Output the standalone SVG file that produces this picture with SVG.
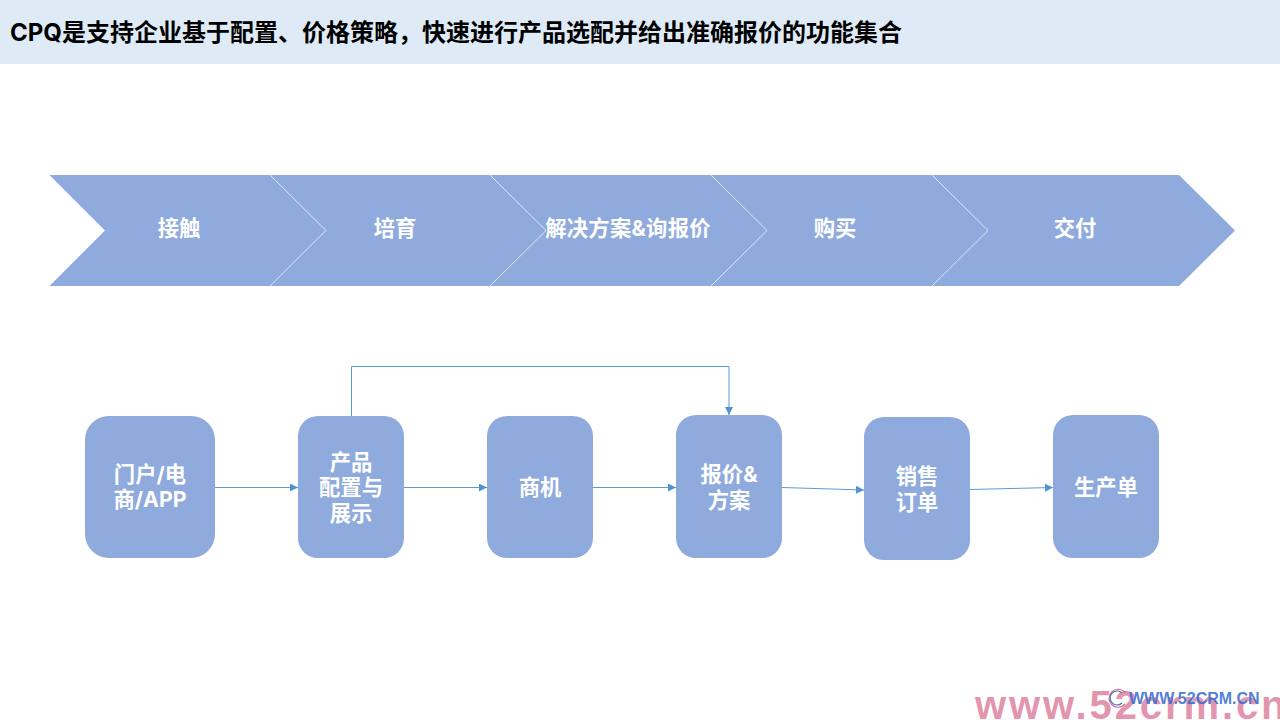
<svg xmlns="http://www.w3.org/2000/svg" width="1280" height="720" viewBox="0 0 1280 720">
<style>
text{font-family:"Inter","Noto Sans CJK SC","Noto Sans",sans-serif;font-weight:700}
.l{fill:#fff;font-size:21.33px;text-anchor:middle}
.n{fill:#8faadc}
.c{fill:none;stroke:#5b9bd5;stroke-width:1;marker-end:url(#a)}
.s{fill:#8faadc;stroke:none}
.e{fill:none;stroke:#dfe6f3;stroke-width:1}
.w{font-family:"Liberation Sans",sans-serif}
</style>
<defs><marker id="a" markerUnits="userSpaceOnUse" markerWidth="9" markerHeight="8" refX="8" refY="4" orient="auto"><path d="M0 0L8 4L0 8Z" fill="#4f94d4"/></marker></defs>
<rect width="1280" height="64" fill="#deeaf6"/>
<text x="10" y="41" font-size="24" fill="#000">CPQ是支持企业基于配置、价格策略，快速进行产品选配并给出准确报价的功能集合</text>
<g id="chevrons">
<path class="s" d="M49.500 175H1179L1235 230.500L1179 286H49.500L105 230.500Z"/>
<path class="e" d="M270 175L326 230.500L270 286M490 175L546 230.500L490 286M711 175L767 230.500L711 286M932 175L988 230.500L932 286"/>
<text class="l" x="179" y="236">接触</text>
<text class="l" x="395" y="236">培育</text>
<text class="l" x="628" y="236" letter-spacing=".25">解决方案&amp;询报价</text>
<text class="l" x="835" y="236">购买</text>
<text class="l" x="1075" y="236">交付</text>
</g>
<g id="connectors">
<path class="c" d="M215 487.500H298"/>
<path class="c" d="M404 487.500H487"/>
<path class="c" d="M593 487.500H676"/>
<path class="c" d="M782 487.500L864 490"/>
<path class="c" d="M970 489.500L1053 487.500"/>
<path class="c" d="M351.500 416V366.500H729V415"/>
</g>
<g id="n1"><rect class="n" x="85" y="416" width="130" height="142" rx="24"/><text class="l" x="150" y="482">门户/电</text><text class="l" x="150" y="507">商/APP</text></g>
<g id="n2"><rect class="n" x="298" y="416" width="106" height="142" rx="20"/><text class="l" x="351" y="470">产品</text><text class="l" x="351" y="495">配置与</text><text class="l" x="351" y="521">展示</text></g>
<g id="n3"><rect class="n" x="487" y="416" width="106" height="142" rx="20"/><text class="l" x="540" y="495">商机</text></g>
<g id="n4"><rect class="n" x="676" y="415" width="106" height="143" rx="20"/><text class="l" x="729" y="482">报价&amp;</text><text class="l" x="729" y="508">方案</text></g>
<g id="n5"><rect class="n" x="864" y="417" width="106" height="143" rx="20"/><text class="l" x="917" y="484">销售</text><text class="l" x="917" y="510">订单</text></g>
<g id="n6"><rect class="n" x="1053" y="415" width="106" height="143" rx="20"/><text class="l" x="1106" y="495">生产单</text></g>
<g id="watermark">
<text class="w" x="975" y="719" font-size="40" fill="#d9668a" fill-opacity=".7" letter-spacing="2.900">www.52crm.cn</text>
<path d="M1125 692.500A9 9 0 1 0 1125 704" fill="none" stroke="#d9668a" stroke-width="1.200"/>
<path d="M1122 693A7 7 0 1 0 1122 703" fill="none" stroke="#4472c4" stroke-width="1.200"/>
<text class="w" x="1129" y="703.500" font-size="16" fill="#3a6fd0" fill-opacity=".9">WWW.52CRM.CN</text>
</g>
</svg>
